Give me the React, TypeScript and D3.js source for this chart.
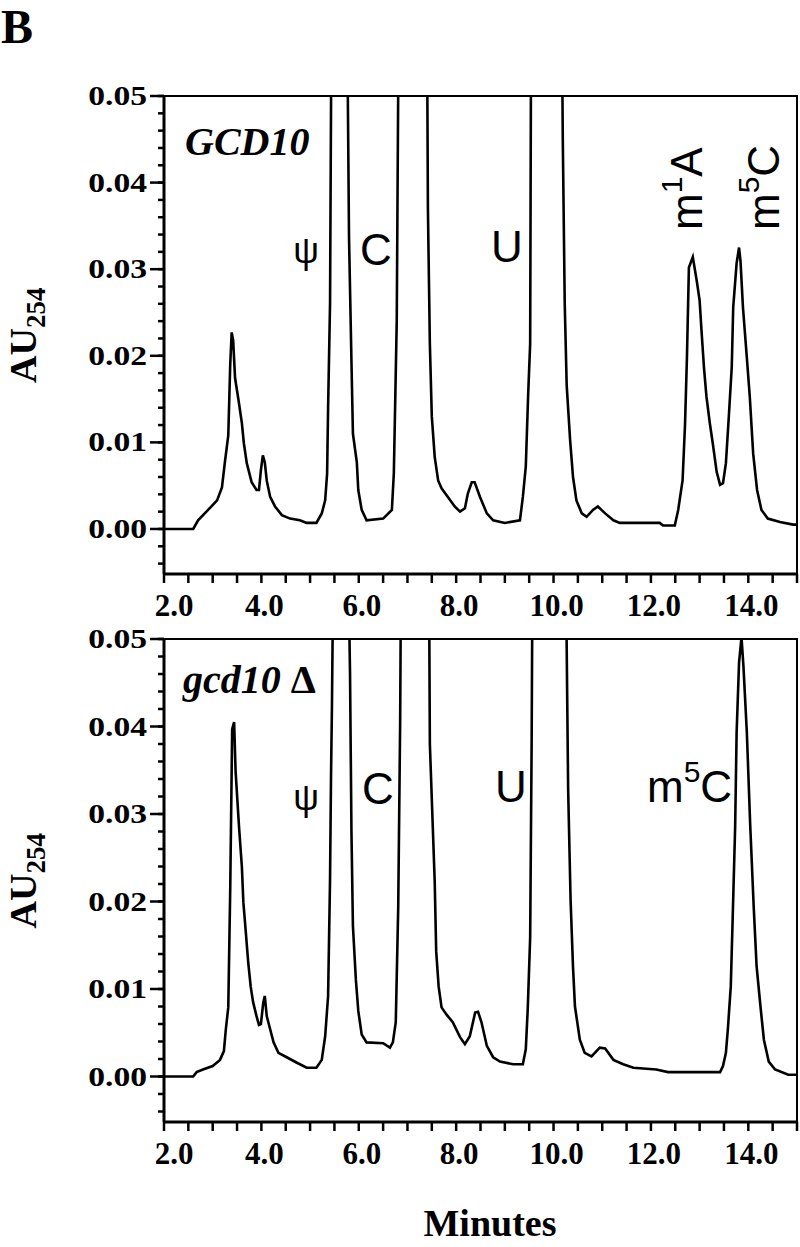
import * as d3 from 'd3';

/* ── data (minutes, AU254) ── */
const topTime = [2.0, 2.6, 2.7, 2.94, 3.09, 3.19, 3.25, 3.32, 3.36, 3.39, 3.42, 3.46, 3.53, 3.6, 3.64, 3.7, 3.8, 3.9, 3.95, 3.99, 4.03, 4.07, 4.11, 4.18, 4.28, 4.42, 4.59, 4.79, 4.93, 5.13, 5.24, 5.31, 5.35, 5.37, 5.41, 5.44, 5.6, 5.76, 5.8, 5.85, 5.88, 5.96, 5.99, 6.06, 6.16, 6.5, 6.68, 6.72, 6.78, 6.82, 7.1, 7.4, 7.42, 7.46, 7.5, 7.56, 7.63, 7.7, 7.83, 7.97, 8.08, 8.18, 8.24, 8.32, 8.38, 8.49, 8.63, 8.76, 9.0, 9.31, 9.37, 9.43, 9.48, 9.52, 9.54, 9.8, 10.17, 10.19, 10.23, 10.27, 10.34, 10.4, 10.47, 10.58, 10.68, 10.81, 10.91, 11.06, 11.23, 11.36, 12.18, 12.25, 12.49, 12.56, 12.65, 12.7, 12.74, 12.78, 12.86, 12.94, 13.0, 13.04, 13.09, 13.14, 13.21, 13.27, 13.35, 13.42, 13.48, 13.54, 13.6, 13.66, 13.69, 13.76, 13.81, 13.84, 13.89, 13.96, 14.03, 14.1, 14.18, 14.27, 14.4, 14.65, 14.92, 15.0];
const topAbs = [0, 0, 0.001, 0.0024, 0.0033, 0.0048, 0.0077, 0.0108, 0.019, 0.0227, 0.0218, 0.0174, 0.0149, 0.0122, 0.0099, 0.0076, 0.0054, 0.0045, 0.0045, 0.0068, 0.0085, 0.0077, 0.0056, 0.0037, 0.0026, 0.0016, 0.0012, 0.001, 0.0007, 0.0007, 0.0018, 0.0033, 0.0064, 0.014, 0.026, 0.06, 0.09, 0.06, 0.0336, 0.0193, 0.011, 0.0077, 0.0045, 0.0022, 0.001, 0.0012, 0.0022, 0.0064, 0.024, 0.06, 0.1, 0.06, 0.037, 0.0214, 0.013, 0.0083, 0.0056, 0.0047, 0.0037, 0.0026, 0.002, 0.0024, 0.0041, 0.0054, 0.0054, 0.0037, 0.0018, 0.001, 0.0007, 0.001, 0.0037, 0.0072, 0.0157, 0.0214, 0.06, 0.1, 0.06, 0.045, 0.026, 0.0166, 0.0103, 0.006, 0.0033, 0.0018, 0.0014, 0.0022, 0.0026, 0.0018, 0.001, 0.0007, 0.0007, 0.0004, 0.0004, 0.0022, 0.0056, 0.012, 0.0199, 0.0302, 0.0314, 0.0287, 0.0264, 0.0228, 0.0186, 0.0153, 0.0122, 0.0099, 0.0066, 0.0051, 0.0053, 0.0076, 0.013, 0.0187, 0.0256, 0.0307, 0.0325, 0.0309, 0.0256, 0.0205, 0.0153, 0.0087, 0.0045, 0.0022, 0.0012, 0.0008, 0.0005, 0.0005];

const bottomTime = [2.0, 2.6, 2.67, 2.8, 3.0, 3.15, 3.23, 3.27, 3.32, 3.36, 3.4, 3.44, 3.47, 3.54, 3.6, 3.63, 3.68, 3.73, 3.78, 3.83, 3.9, 3.95, 3.99, 4.04, 4.07, 4.11, 4.18, 4.25, 4.35, 4.52, 4.72, 4.93, 5.13, 5.24, 5.31, 5.37, 5.41, 5.43, 5.45, 5.48, 5.6, 5.78, 5.82, 5.85, 5.88, 5.94, 5.99, 6.06, 6.16, 6.5, 6.64, 6.7, 6.76, 6.81, 6.85, 6.87, 7.1, 7.44, 7.46, 7.56, 7.59, 7.64, 7.7, 7.8, 7.93, 8.08, 8.18, 8.28, 8.39, 8.45, 8.52, 8.63, 8.69, 8.76, 8.9, 9.17, 9.37, 9.43, 9.47, 9.52, 9.55, 9.57, 9.9, 10.25, 10.3, 10.35, 10.4, 10.44, 10.54, 10.64, 10.78, 10.95, 11.06, 11.23, 11.43, 11.64, 12.11, 12.35, 13.42, 13.48, 13.54, 13.58, 13.64, 13.68, 13.73, 13.76, 13.81, 13.86, 13.9, 13.97, 14.04, 14.11, 14.17, 14.25, 14.32, 14.42, 14.55, 14.82, 15.0];
const bottomAbs = [0, 0, 0.0005, 0.0008, 0.0012, 0.0019, 0.0029, 0.0054, 0.0079, 0.0214, 0.0397, 0.0405, 0.0349, 0.0286, 0.0239, 0.0199, 0.0165, 0.013, 0.0103, 0.0085, 0.0069, 0.0059, 0.006, 0.0085, 0.0092, 0.0069, 0.0054, 0.0039, 0.0027, 0.0022, 0.0016, 0.001, 0.001, 0.0019, 0.0046, 0.0092, 0.0225, 0.0343, 0.0427, 0.06, 0.09, 0.06, 0.0463, 0.0279, 0.0172, 0.0111, 0.0075, 0.0048, 0.0039, 0.0038, 0.0033, 0.0039, 0.0062, 0.0193, 0.0405, 0.06, 0.1, 0.06, 0.038, 0.0222, 0.0143, 0.0103, 0.0079, 0.0071, 0.0062, 0.0045, 0.0037, 0.0046, 0.0073, 0.0074, 0.0062, 0.0035, 0.0029, 0.0022, 0.0017, 0.0014, 0.0014, 0.0031, 0.0077, 0.0159, 0.038, 0.06, 0.1, 0.06, 0.0328, 0.0202, 0.0125, 0.008, 0.0042, 0.0027, 0.0023, 0.0033, 0.0032, 0.0019, 0.0014, 0.001, 0.0008, 0.0005, 0.0005, 0.0012, 0.0027, 0.0054, 0.0103, 0.0183, 0.0286, 0.0393, 0.0473, 0.0502, 0.0469, 0.0393, 0.0286, 0.0195, 0.0126, 0.008, 0.0042, 0.0017, 0.0008, 0.0002, 0.0002];

const xMajorTicks = [2, 4, 6, 8, 10, 12, 14];
const xMinorTicks = d3.range(2, 15.01, 0.5);
const yMajorTicks = [0, 0.01, 0.02, 0.03, 0.04, 0.05];
const yMinorTicks = d3.range(-0.004, 0.0501, 0.002);

const SERIF = '"Liberation Serif", "DejaVu Serif", serif';
const SANS = '"Liberation Sans", Arial, sans-serif';

const x = d3.scaleLinear().domain([2, 15]).range([164, 797]);

function Panel({ id, time, abs, y0, y1, children }) {
  const y = d3.scaleLinear().domain([-0.0052, 0.05]).range([y1, y0]);
  const pts = time.map((t, i) => [t, abs[i]]);
  const line = d3.line().x(d => x(d[0])).y(d => y(d[1]));
  const left = x.range()[0], right = x.range()[1];
  return (
    <g>
      <defs>
        <clipPath id={id}>
          <rect x={left} y={y0} width={right - left} height={y1 - y0} />
        </clipPath>
      </defs>
      <path d={line(pts)} fill="none" stroke="#000" strokeWidth={2.6}
        strokeLinejoin="miter" clipPath={`url(#${id})`} />
      {/* frame */}
      <rect x={left} y={y0} width={right - left} height={y1 - y0}
        fill="none" stroke="#000" strokeWidth={2} />
      <line x1={left} x2={left} y1={y0} y2={y1} stroke="#000" strokeWidth={3} />
      <line x1={left} x2={right} y1={y1} y2={y1} stroke="#000" strokeWidth={3} />
      {/* y ticks */}
      {yMinorTicks.map(v => (
        <line key={'ym' + v} x1={left - 6} x2={left} y1={y(v)} y2={y(v)} stroke="#000" strokeWidth={2.5} />
      ))}
      {yMajorTicks.map(v => (
        <g key={'yM' + v}>
          <line x1={left - 14} x2={left} y1={y(v)} y2={y(v)} stroke="#000" strokeWidth={2.5} />
          <text transform={`translate(${left - 17},${y(v) + 9}) scale(1.2,1)`} textAnchor="end"
            fontFamily={SERIF} fontWeight="bold" fontSize={28}>{v.toFixed(2)}</text>
        </g>
      ))}
      {/* x ticks */}
      {xMinorTicks.map(v => (
        <line key={'xm' + v} x1={x(v)} x2={x(v)} y1={y1} y2={y1 + 9} stroke="#000" strokeWidth={2.5} />
      ))}
      {xMajorTicks.map((v, i) => (
        <text key={'xM' + v} x={x(v) + (i === 0 ? 10 : 3)} y={y1 + 42} textAnchor="middle"
          fontFamily={SERIF} fontWeight="bold" fontSize={31}>{v.toFixed(1)}</text>
      ))}
      {/* y label */}
      <text transform={`translate(36,${(y0 + y1) / 2 + 48}) rotate(-90)`}
        fontFamily={SERIF} fontWeight="bold" fontSize={38}>
        AU<tspan fontSize={27} dy={9}>254</tspan>
      </text>
      {children}
    </g>
  );
}

export default function App() {
  return (
    <svg width={800} height={1247} style={{ position: 'absolute', left: 0, top: 0, background: '#fff' }}>
      <rect width={800} height={1247} fill="#fff" />
      <text x={1} y={43} fontFamily={SERIF} fontWeight="bold" fontSize={48}>B</text>

      <Panel id="clipTop" time={topTime} abs={topAbs} y0={96} y1={574}>
        <text x={185} y={155} fontFamily={SERIF} fontWeight="bold" fontStyle="italic" fontSize={40}>GCD10</text>
        <text x={306} y={263} textAnchor="middle" fontFamily={SANS} fontSize={36}>ψ</text>
        <text x={376} y={265} textAnchor="middle" fontFamily={SANS} fontSize={44}>C</text>
        <text x={507} y={262} textAnchor="middle" fontFamily={SANS} fontSize={44}>U</text>
        <text transform="translate(702,230) rotate(-90)" fontFamily={SANS} fontSize={44}>
          m<tspan fontSize={30} dy={-20}>1</tspan><tspan dy={20}>A</tspan>
        </text>
        <text transform="translate(779,230) rotate(-90)" fontFamily={SANS} fontSize={44}>
          m<tspan fontSize={30} dy={-20}>5</tspan><tspan dy={20}>C</tspan>
        </text>
      </Panel>

      <Panel id="clipBottom" time={bottomTime} abs={bottomAbs} y0={639} y1={1122}>
        <text x={183} y={693} fontFamily={SERIF} fontWeight="bold" fontSize={40}>
          <tspan fontStyle="italic">gcd10</tspan> Δ
        </text>
        <text x={306} y={810} textAnchor="middle" fontFamily={SANS} fontSize={36}>ψ</text>
        <text x={378} y={804} textAnchor="middle" fontFamily={SANS} fontSize={44}>C</text>
        <text x={511} y={802} textAnchor="middle" fontFamily={SANS} fontSize={44}>U</text>
        <text x={647} y={802} fontFamily={SANS} fontSize={44}>
          m<tspan fontSize={30} dy={-20}>5</tspan><tspan dy={20}>C</tspan>
        </text>
      </Panel>

      <text x={490} y={1236} textAnchor="middle" fontFamily={SERIF} fontWeight="bold" fontSize={38}>Minutes</text>
    </svg>
  );
}
